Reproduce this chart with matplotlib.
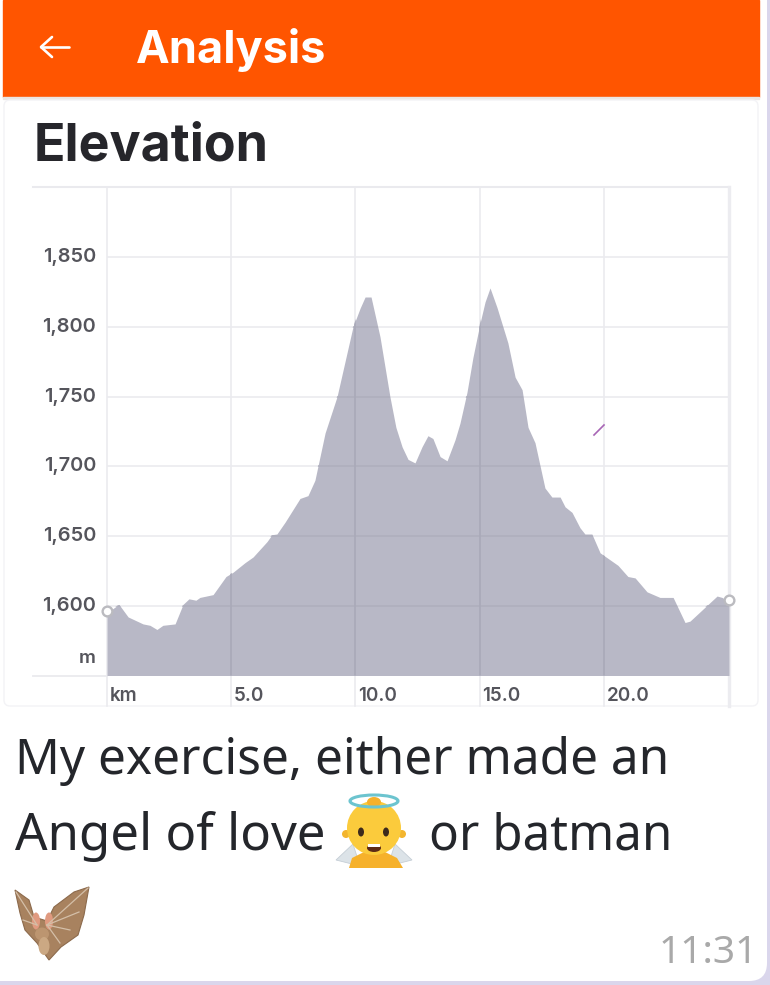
import matplotlib
matplotlib.use("Agg")
import matplotlib.pyplot as plt
from matplotlib.patches import Rectangle, FancyBboxPatch, Ellipse, Polygon, Circle

km = [0, 0.48, 0.85, 1.45, 1.73, 2.01, 2.25, 2.74, 3.06, 3.30, 3.58, 3.74, 4.27, 4.79, 5.07, 5.56, 5.88,
      6.44, 6.64, 6.84, 7.17, 7.77, 8.09, 8.37, 8.78, 9.26, 9.90, 10.19, 10.39, 10.63, 10.99, 11.39, 11.63, 11.88, 12.12,
      12.40, 12.68, 12.92, 13.12, 13.41, 13.69, 14.01, 14.21, 14.49, 14.73, 15.02, 15.22, 15.42, 15.70, 16.14, 16.43, 16.71,
      16.95, 17.23, 17.63, 17.91, 18.24, 18.44, 18.72, 19.04, 19.24, 19.52, 19.85, 20.57, 20.97, 21.26,
      21.74, 22.26, 22.79, 23.27, 23.47, 24.56, 24.76, 25.04]
elevation = [1595, 1601, 1592, 1587, 1586, 1583, 1586, 1587, 1601, 1605, 1604, 1606, 1608, 1621, 1624, 1631, 1635,
             1646, 1651, 1651.5, 1660, 1677, 1679, 1690, 1724, 1750, 1800, 1813.5, 1821.5, 1821.5, 1793, 1750, 1728, 1714, 1705,
             1702.5, 1714, 1722, 1720, 1707, 1704, 1719, 1731, 1753, 1778, 1803, 1818, 1828, 1814, 1788.5, 1764, 1755,
             1728, 1717, 1684.5, 1678, 1678, 1671, 1667, 1656, 1651.5, 1651.5, 1638, 1629, 1621, 1620,
             1610, 1606, 1606, 1588, 1589, 1607, 1606, 1603]
y_ticks = [1600, 1650, 1700, 1750, 1800, 1850]
x_ticks = [5, 10, 15, 20]
x_labels = ["5.0", "10.0", "15.0", "20.0"]

W, H = 770, 985
fig = plt.figure(figsize=(W / 100, H / 100), dpi=100, facecolor="#D6D2EA")

# page overlay in pixel coordinates
bg = fig.add_axes([0, 0, 1, 1], zorder=0)
bg.set_xlim(0, W); bg.set_ylim(H, 0); bg.axis("off")
bg.add_patch(Rectangle((0, 0), W, H, color="#DAD6EC"))
bg.add_patch(FancyBboxPatch((-30, -30), 797, 1011, boxstyle="round,pad=0,rounding_size=18", fc="white", ec="none"))
bg.add_patch(Rectangle((3, 0), 756, 97, color="#FF5500"))
bg.add_patch(Rectangle((3, 97), 756, 2, color="#EBE6E3"))
bg.add_patch(FancyBboxPatch((4, 100), 754, 606, boxstyle="round,pad=0,rounding_size=6",
                            fc="white", ec="#F3F3F6", lw=1))
bg.plot([41, 69], [47, 47], color="white", lw=1.9, solid_capstyle="round")
bg.plot([52, 41, 52], [37, 47, 57], color="white", lw=1.9, solid_capstyle="round", solid_joinstyle="round")
bg.text(136, 50, "Analysis", color="white", fontsize=32.5, fontweight="bold", family="Inter", va="center", ha="left")
bg.text(34, 147, "Elevation", color="#26262B", fontsize=37.4, fontweight="bold", family="Inter", va="center", ha="left")
bg.plot([33, 729], [187, 187], color="#EAEAEE", lw=1.5)
bg.plot([33, 107], [675.5, 675.5], color="#EAEAEE", lw=1.3)

# chart
ax = fig.add_axes([107 / W, 1 - 675.5 / H, (729 - 107) / W, (675.5 - 187) / H], zorder=1)
ax.patch.set_alpha(0)
ax.set_xlim(0, 25.04); ax.set_ylim(1550, 1900.4)
for s in ax.spines.values():
    s.set_visible(False)
ax.set_xticks([]); ax.set_yticks([])
GRID = "#EBEBEF"
for t in y_ticks:
    ax.axhline(t, color=GRID, lw=1.2, zorder=1)
for t in [0] + x_ticks:
    ax.plot([t, t], [1528, 1900.4], color=GRID, lw=1.2, clip_on=False, zorder=1)
ax.plot([25.04, 25.04], [1528, 1900.4], color="#ECECF0", lw=2.4, clip_on=False, zorder=1)
poly = ax.fill_between(km, elevation, 1550, color="#B8B8C6", lw=0, zorder=2)
for t in y_ticks:
    l = ax.axhline(t, color="#AEAEBC", lw=1.1, zorder=3); l.set_clip_path(poly.get_paths()[0], ax.transData)
for t in x_ticks:
    l = ax.axvline(t, color="#A9A9B8", lw=1.2, zorder=3); l.set_clip_path(poly.get_paths()[0], ax.transData)
ax.plot([km[0], km[-1]], [elevation[0] + 1, elevation[-1] + 1], ls="none", marker="o", ms=7,
        mfc="white", mec="#BBBBC0", mew=1.7, clip_on=False, zorder=5)
TICK = "#55555C"
for t in y_ticks:
    ax.annotate(f"{t:,}", (0, t), xytext=(-11, 0), textcoords="offset pixels", ha="right", va="center",
                fontsize=14.4, fontweight="semibold", family="Inter", color=TICK, annotation_clip=False)
ax.annotate("m", (0, 1562), xytext=(-11, 0), textcoords="offset pixels", ha="right", va="center",
            fontsize=13.5, fontweight="semibold", family="Inter", color=TICK, annotation_clip=False)
for t, s in zip([0] + x_ticks, ["km"] + x_labels):
    ax.annotate(s, (t, 1550), xytext=(3, -20), textcoords="offset pixels", ha="left", va="center",
                fontsize=13.6, fontweight="semibold", family="Inter", color=TICK, annotation_clip=False)

# foreground overlay
fg = fig.add_axes([0, 0, 1, 1], zorder=2)
fg.set_xlim(0, W); fg.set_ylim(H, 0); fg.axis("off"); fg.patch.set_alpha(0)
fg.plot([594, 604], [435, 425], color="#A765B5", lw=1.2)
CAP = "#24262B"
fg.text(15, 774, "My exercise, either made an", fontsize=35.7, family="Noto Sans", color=CAP, va="baseline")
fg.text(15, 850, "Angel of love", fontsize=36.7, family="Noto Sans", color=CAP, va="baseline")
fg.text(429, 850, "or batman", fontsize=35.5, family="Noto Sans", color=CAP, va="baseline")
fg.text(758, 963, "11:31", fontsize=28, family="Noto Sans", color="#A9A9A9", va="baseline", ha="right")

# angel emoji
fg.add_patch(Polygon([(336, 860), (353, 844), (360, 866)], fc="#DCE3E8", ec="#C5CED6", lw=.6))
fg.add_patch(Polygon([(412, 860), (395, 844), (388, 866)], fc="#DCE3E8", ec="#C5CED6", lw=.6))
fg.add_patch(Polygon([(349, 868), (352, 858), (366, 851), (383, 851), (397, 858), (403, 868)], fc="#F6B12B", ec="none"))
fg.add_patch(Circle((346, 834), 4, fc="#F3B52E", ec="none"))
fg.add_patch(Circle((402, 834), 4, fc="#F3B52E", ec="none"))
fg.add_patch(Ellipse((374, 828), 54, 54, fc="#FBCB3C", ec="none"))
fg.add_patch(Ellipse((374, 802), 14, 10, fc="#F6B12B", ec="none"))
fg.add_patch(Ellipse((374, 801), 48, 12, fc="none", ec="#6CC4CF", lw=2.2))
fg.add_patch(Ellipse((361, 832), 6, 9, fc="#3D2A1C", ec="none"))
fg.add_patch(Ellipse((386, 832), 6, 9, fc="#3D2A1C", ec="none"))
fg.add_patch(Ellipse((374, 848), 14, 8, fc="#5D2A16", ec="none"))
fg.add_patch(Rectangle((368, 844), 12, 2.5, fc="white", ec="none"))

# bat emoji
fg.add_patch(Polygon([(15, 890), (20, 913), (25, 930), (37, 943), (49, 960), (61, 947), (78, 935), (84, 915),
                      (89, 887), (74, 892), (54, 907), (47, 921), (34, 917), (29, 900)],
                     fc="#A8825F", ec="#8C6A4C", lw=.8))
for x2, y2 in [(88, 888), (79, 912), (70, 930), (60, 943)]:
    fg.plot([47, x2], [925, y2], color="#D4BFA8", lw=.9)
for x2, y2 in [(16, 892), (23, 920)]:
    fg.plot([37, x2], [925, y2], color="#D4BFA8", lw=.9)
fg.add_patch(Ellipse((36, 921), 8, 17, fc="#E09A80", ec="none"))
fg.add_patch(Ellipse((49, 921), 8, 17, fc="#E09A80", ec="none"))
fg.add_patch(Ellipse((42, 934), 14, 13, fc="#BC9570", ec="none"))
fg.add_patch(Ellipse((44, 946), 11, 18, fc="#CBA883", ec="none"))

fig.savefig("out.png", dpi=100)
